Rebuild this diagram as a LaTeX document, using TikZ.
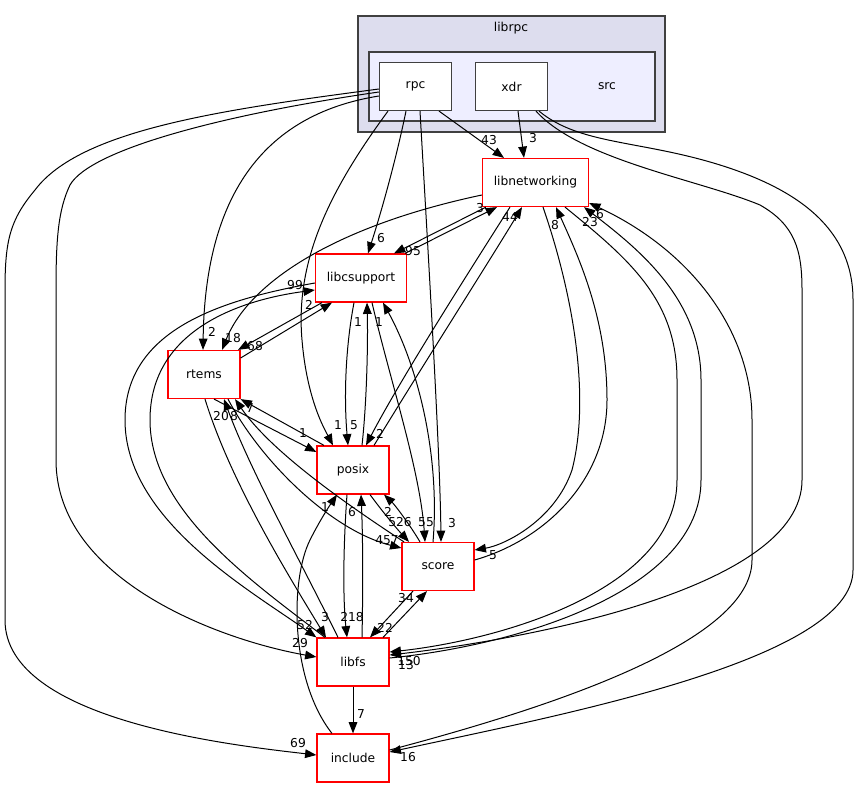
\documentclass[tikz,border=0pt]{standalone}
\usepackage{fontspec}
\newfontfamily\dejavu{DejaVu Sans}
\usetikzlibrary{arrows.meta}
\definecolor{outerfill}{HTML}{DDDDEE}
\definecolor{innerfill}{HTML}{EEEEFF}
\definecolor{framegray}{HTML}{404040}
\tikzset{
  dirbox/.style={draw=red, line width=0.9pt, fill=white, minimum width=54pt, minimum height=36pt, inner xsep=8.5pt, font=\dejavu\fontsize{9.2}{11}\selectfont},
  subdir/.style={dirbox, draw=framegray},
  dep/.style={-{Triangle[length=8.5pt,width=6.5pt]}, line width=0.75pt},
  num/.style={font=\dejavu\fontsize{9.2}{11}\selectfont, inner sep=0pt},
}

\begin{document}
\begin{tikzpicture}[x=0.75pt,y=-0.75pt]
        \useasboundingbox (0,0) rectangle (859,788);
        % librpc and src clusters
        \draw[framegray, line width=0.9pt, fill=outerfill] (358,16) rectangle (665,132);
        \node[num] (librpclabel) at (511,28) {librpc};
        \draw[framegray, line width=0.9pt, fill=innerfill] (369,52) rectangle (655,121);
        \node[num] (srclabel) at (607,86) {src};
        \node[subdir] (rpc) at (415.5,86.5) {rpc};
        \node[subdir] (xdr) at (511.5,86.5) {xdr};

        % other directories
        \node[dirbox] (libnetworking) at (535.5,182.5) {libnetworking};
        \node[dirbox] (libcsupport) at (361,278) {libcsupport};
        \node[dirbox] (rtems) at (204,374.5) {rtems};
        \node[dirbox] (posix) at (353,470) {posix};
        \node[dirbox] (score) at (438,566.5) {score};
        \node[dirbox] (libfs) at (353,662) {libfs};
        \node[dirbox] (include) at (353,758) {include};

        % from rpc and xdr
        \draw[dep] (439,0 |- rpc.south) -- (504,0 |- libnetworking.north);
        \draw[dep] (518,0 |- xdr.south) -- (524,0 |- libnetworking.north);
        \draw[dep] (406,0 |- rpc.south) .. controls (398,150) and (385,200) .. (368,0 |- libcsupport.north);
        \draw[dep] (rpc.west |- 0,96) .. controls (260,115) and (205,200) .. (203,0 |- rtems.north);
        \draw[dep] (388,0 |- rpc.south) .. controls (330,190) and (295,260) .. (302,340) .. controls (307,400) and (325,430) .. (333,0 |- posix.north);
        \draw[dep] (420,0 |- rpc.south) .. controls (428,250) and (440,450) .. (441,0 |- score.north);
        \draw[dep] (rpc.west |- 0,92) .. controls (220,115) and (90,150) .. (70,185) .. controls (58,210) and (56,240) .. (56,290) -- (56,460) .. controls (56,580) and (220,640) .. (libfs.west |- 0,657);
        \draw[dep] (rpc.west |- 0,89) .. controls (220,110) and (80,130) .. (35,190) .. controls (10,220) and (5,240) .. (5,290) -- (5,620) .. controls (5,720) and (230,745) .. (include.west |- 0,755);
        \draw[dep] (536,0 |- xdr.south) .. controls (580,160) and (700,180) .. (760,205) .. controls (795,225) and (802,250) .. (802,290) -- (802,480) .. controls (802,590) and (520,640) .. (libfs.east |- 0,655);
        \draw[dep] (539,0 |- xdr.south) .. controls (580,145) and (640,140) .. (720,165) .. controls (800,190) and (853,230) .. (853,300) -- (853,570) .. controls (853,660) and (560,715) .. (include.east |- 0,752);

        % libnetworking
        \draw[dep] (486,0 |- libnetworking.south) -- (394,0 |- libcsupport.north);
        \draw[dep] (405,0 |- libcsupport.north) -- (497,0 |- libnetworking.south);
        \draw[dep] (libnetworking.west |- 0,195) .. controls (340,225) and (250,280) .. (222,0 |- rtems.north);
        \draw[dep] (374,0 |- posix.north) .. controls (420,370) and (490,260) .. (522,0 |- libnetworking.south);
        \draw[dep] (510,0 |- libnetworking.south) .. controls (470,270) and (400,380) .. (366,0 |- posix.north);
        \draw[dep] (543,0 |- libnetworking.south) .. controls (575,300) and (590,400) .. (572,470) .. controls (555,520) and (505,545) .. (score.east |- 0,550);
        \draw[dep] (score.east |- 0,560) .. controls (545,540) and (607,480) .. (607,400) .. controls (607,320) and (580,260) .. (556,0 |- libnetworking.south);
        \draw[dep] (565,0 |- libnetworking.south) .. controls (630,260) and (677,300) .. (677,380) -- (677,480) .. controls (677,590) and (500,640) .. (libfs.east |- 0,652);
        \draw[dep] (libfs.east |- 0,658) .. controls (520,645) and (701,590) .. (701,480) -- (701,380) .. controls (701,300) and (640,250) .. (584,0 |- libnetworking.south);
        \draw[dep] (include.east |- 0,750) .. controls (560,705) and (752,640) .. (752,560) -- (752,420) .. controls (752,330) and (690,250) .. (libnetworking.east |- 0,203);

        % libcsupport
        \draw[dep] (322,0 |- libcsupport.south) -- (238,0 |- rtems.north);
        \draw[dep] (rtems.east |- 0,358) -- (332,0 |- libcsupport.south);
        \draw[dep] (libcsupport.west |- 0,283) .. controls (220,300) and (125,330) .. (125,420) .. controls (125,520) and (250,590) .. (libfs.north west);
        \draw[dep] (325,0 |- libfs.north) .. controls (250,580) and (150,510) .. (150,420) .. controls (150,330) and (240,300) .. (libcsupport.west |- 0,290);
        \draw[dep] (354,0 |- libcsupport.south) .. controls (345,350) and (344,400) .. (348,0 |- posix.north);
        \draw[dep] (362,0 |- posix.north) .. controls (367,400) and (368,340) .. (367,0 |- libcsupport.south);
        \draw[dep] (372,0 |- libcsupport.south) .. controls (390,380) and (420,470) .. (425,0 |- score.north);
        \draw[dep] (433,0 |- score.north) .. controls (440,460) and (420,370) .. (383,0 |- libcsupport.south);

        % rtems
        \draw[dep] (214,0 |- rtems.south) -- (posix.west |- 0,452);
        \draw[dep] (324,0 |- posix.north) -- (rtems.south east);
        \draw[dep] (228,0 |- rtems.south) .. controls (260,460) and (330,530) .. (score.west |- 0,548);
        \draw[dep] (404,0 |- score.north) .. controls (340,500) and (270,450) .. (235,0 |- rtems.south);
        \draw[dep] (205,0 |- rtems.south) .. controls (230,480) and (285,570) .. (326,0 |- libfs.north);
        \draw[dep] (338,0 |- libfs.north) .. controls (300,560) and (250,470) .. (224,0 |- rtems.south);

        % posix, score, libfs, include
        \draw[dep] (347,0 |- posix.south) .. controls (343,550) and (343,600) .. (347,0 |- libfs.north);
        \draw[dep] (362,0 |- libfs.north) .. controls (363,590) and (363,540) .. (361,0 |- posix.south);
        \draw[dep] (370,0 |- posix.south) .. controls (385,515) and (398,530) .. (409,0 |- score.north);
        \draw[dep] (420,0 |- score.north) .. controls (410,525) and (395,505) .. (384,0 |- posix.south);
        \draw[dep] (413,0 |- score.south) -- (370,0 |- libfs.north);
        \draw[dep] (383,0 |- libfs.north) -- (427,0 |- score.south);
        \draw[dep] (libfs) -- (include);
        \draw[dep] (332,0 |- include.north) .. controls (290,680) and (290,580) .. (310,540) .. controls (320,520) and (330,505) .. (337,0 |- posix.south);

        % edge counts
        \foreach \t/\x/\y [count=\i] in {43/489/140, 3/533/138, 6/381/238, 2/212/332, 1/338/425, 3/452/523,
            29/300/643, 69/298/743, 150/409/661, 13/406/665, 16/408/757, 95/413/251, 3/480/208, 18/233/338,
            2/380/434, 44/510/217, 5/493/555, 8/555/225, 23/590/222, 6/600/214, 68/255/346, 2/309/305,
            99/295/285, 52/305/625, 5/354/425, 1/358/322, 55/426/522, 1/379/322, 1/303/433, 7/250/408,
            20/221/416, 8/234/416, 1/325/507, 6/352/512, 2/388/512, 526/400/522, 3/325/617, 218/352/617,
            457/387/540, 34/406/598, 22/385/628, 7/361/714}
          \node[num] (count\i) at (\x,\y) {\t};
\end{tikzpicture}
\end{document}
